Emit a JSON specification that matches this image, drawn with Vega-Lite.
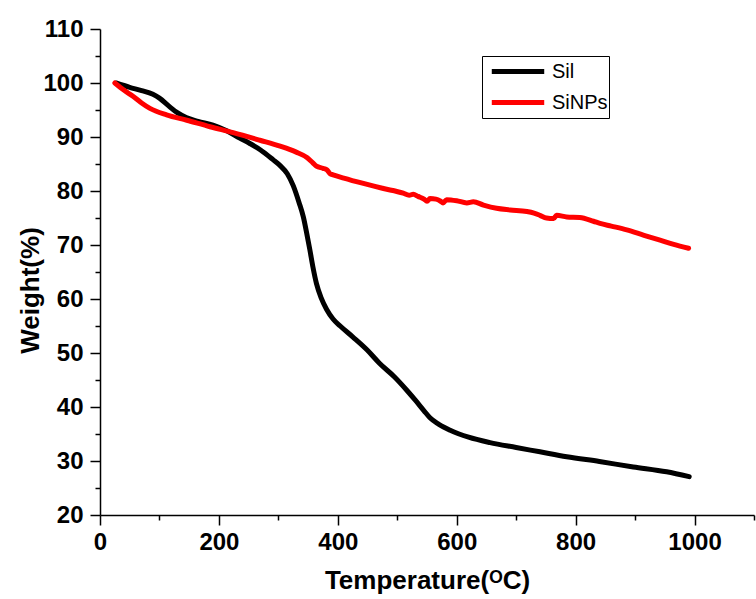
{
  "$schema": "https://vega.github.io/schema/vega-lite/v6.json",
  "width": 654,
  "height": 486,
  "autosize": {"type": "none"},
  "padding": {"left": 100, "top": 29, "right": 2, "bottom": 84},
  "background": "white",
  "config": {"view": {"stroke": null}},
  "datasets": {
    "tga": [
      {"series": "Sil", "T": 27, "W": 100},
      {"series": "Sil", "T": 50, "W": 99.2},
      {"series": "Sil", "T": 70, "W": 98.6},
      {"series": "Sil", "T": 89, "W": 97.9},
      {"series": "Sil", "T": 100, "W": 97.2},
      {"series": "Sil", "T": 115, "W": 95.8},
      {"series": "Sil", "T": 130, "W": 94.5},
      {"series": "Sil", "T": 145, "W": 93.6},
      {"series": "Sil", "T": 165, "W": 92.9},
      {"series": "Sil", "T": 190, "W": 92.2},
      {"series": "Sil", "T": 214, "W": 91.1},
      {"series": "Sil", "T": 235, "W": 89.8},
      {"series": "Sil", "T": 252, "W": 88.8},
      {"series": "Sil", "T": 270, "W": 87.6},
      {"series": "Sil", "T": 291, "W": 85.8},
      {"series": "Sil", "T": 303, "W": 84.7},
      {"series": "Sil", "T": 315, "W": 83.2},
      {"series": "Sil", "T": 325, "W": 81.0},
      {"series": "Sil", "T": 335, "W": 77.8},
      {"series": "Sil", "T": 342, "W": 75.2},
      {"series": "Sil", "T": 348, "W": 72.0},
      {"series": "Sil", "T": 353, "W": 69.1},
      {"series": "Sil", "T": 358, "W": 66.0},
      {"series": "Sil", "T": 364, "W": 62.9},
      {"series": "Sil", "T": 372, "W": 60.2},
      {"series": "Sil", "T": 381, "W": 58.1},
      {"series": "Sil", "T": 392, "W": 56.3},
      {"series": "Sil", "T": 404, "W": 55.0},
      {"series": "Sil", "T": 425, "W": 53.0},
      {"series": "Sil", "T": 449, "W": 50.6},
      {"series": "Sil", "T": 470, "W": 48.1},
      {"series": "Sil", "T": 495, "W": 45.6},
      {"series": "Sil", "T": 516, "W": 43.1},
      {"series": "Sil", "T": 530, "W": 41.3},
      {"series": "Sil", "T": 545, "W": 39.3},
      {"series": "Sil", "T": 555, "W": 38.0},
      {"series": "Sil", "T": 570, "W": 36.8},
      {"series": "Sil", "T": 589, "W": 35.7},
      {"series": "Sil", "T": 620, "W": 34.4},
      {"series": "Sil", "T": 656, "W": 33.4},
      {"series": "Sil", "T": 700, "W": 32.5},
      {"series": "Sil", "T": 740, "W": 31.7},
      {"series": "Sil", "T": 785, "W": 30.8},
      {"series": "Sil", "T": 840, "W": 29.9},
      {"series": "Sil", "T": 897, "W": 28.9},
      {"series": "Sil", "T": 953, "W": 28.0},
      {"series": "Sil", "T": 991, "W": 27.1},
      {"series": "SiNPs", "T": 25, "W": 100},
      {"series": "SiNPs", "T": 40, "W": 98.7},
      {"series": "SiNPs", "T": 56, "W": 97.5},
      {"series": "SiNPs", "T": 70, "W": 96.3},
      {"series": "SiNPs", "T": 84, "W": 95.3},
      {"series": "SiNPs", "T": 112, "W": 94.1},
      {"series": "SiNPs", "T": 146, "W": 93.1},
      {"series": "SiNPs", "T": 185, "W": 91.9},
      {"series": "SiNPs", "T": 224, "W": 90.8},
      {"series": "SiNPs", "T": 269, "W": 89.4},
      {"series": "SiNPs", "T": 303, "W": 88.3},
      {"series": "SiNPs", "T": 330, "W": 87.2},
      {"series": "SiNPs", "T": 348, "W": 86.2},
      {"series": "SiNPs", "T": 358, "W": 85.2},
      {"series": "SiNPs", "T": 364, "W": 84.6},
      {"series": "SiNPs", "T": 375, "W": 84.2},
      {"series": "SiNPs", "T": 382, "W": 83.9},
      {"series": "SiNPs", "T": 387, "W": 83.2},
      {"series": "SiNPs", "T": 392, "W": 83.0},
      {"series": "SiNPs", "T": 410, "W": 82.4},
      {"series": "SiNPs", "T": 443, "W": 81.4},
      {"series": "SiNPs", "T": 475, "W": 80.5},
      {"series": "SiNPs", "T": 510, "W": 79.6},
      {"series": "SiNPs", "T": 520, "W": 79.2},
      {"series": "SiNPs", "T": 527, "W": 79.4},
      {"series": "SiNPs", "T": 535, "W": 79.0},
      {"series": "SiNPs", "T": 545, "W": 78.5},
      {"series": "SiNPs", "T": 550, "W": 78.1},
      {"series": "SiNPs", "T": 555, "W": 78.6},
      {"series": "SiNPs", "T": 565, "W": 78.5},
      {"series": "SiNPs", "T": 573, "W": 78.1},
      {"series": "SiNPs", "T": 577, "W": 77.8},
      {"series": "SiNPs", "T": 583, "W": 78.4},
      {"series": "SiNPs", "T": 600, "W": 78.2},
      {"series": "SiNPs", "T": 617, "W": 77.8},
      {"series": "SiNPs", "T": 628, "W": 78.0},
      {"series": "SiNPs", "T": 645, "W": 77.4},
      {"series": "SiNPs", "T": 667, "W": 76.8},
      {"series": "SiNPs", "T": 690, "W": 76.5},
      {"series": "SiNPs", "T": 718, "W": 76.2},
      {"series": "SiNPs", "T": 730, "W": 75.9},
      {"series": "SiNPs", "T": 740, "W": 75.5},
      {"series": "SiNPs", "T": 751, "W": 75.0},
      {"series": "SiNPs", "T": 763, "W": 74.9},
      {"series": "SiNPs", "T": 768, "W": 75.5},
      {"series": "SiNPs", "T": 785, "W": 75.2},
      {"series": "SiNPs", "T": 807, "W": 75.1},
      {"series": "SiNPs", "T": 830, "W": 74.4},
      {"series": "SiNPs", "T": 841, "W": 74.0},
      {"series": "SiNPs", "T": 860, "W": 73.5},
      {"series": "SiNPs", "T": 886, "W": 72.8},
      {"series": "SiNPs", "T": 915, "W": 71.8},
      {"series": "SiNPs", "T": 942, "W": 70.9},
      {"series": "SiNPs", "T": 965, "W": 70.1},
      {"series": "SiNPs", "T": 990, "W": 69.4}
    ]
  },
  "data": {"name": "tga"},
  "mark": {"type": "line", "strokeWidth": 5, "interpolate": "monotone", "strokeCap": "round", "strokeJoin": "round"},
  "encoding": {
    "x": {
      "field": "T",
      "type": "quantitative",
      "scale": {"domain": [0, 1100], "nice": false, "zero": false},
      "axis": {
        "title": "Temperature(ᴼC)",
        "values": [0, 100, 200, 300, 400, 500, 600, 700, 800, 900, 1000, 1100],
        "labelExpr": "datum.value % 200 === 0 && datum.value < 1100 ? datum.label : ''",
        "format": "d",
        "grid": false,
        "domainColor": "black",
        "domainWidth": 1.5,
        "tickColor": "black",
        "tickWidth": 1.5,
        "tickSize": {"condition": {"test": "datum.value % 200 === 0", "value": 10}, "value": 5},
        "labelFont": "Liberation Sans",
        "labelFontWeight": "bold",
        "labelFontSize": 24,
        "labelColor": "black",
        "labelPadding": 5,
        "labelFlush": false,
        "labelOverlap": false,
        "titleFont": "Liberation Sans",
        "titleFontWeight": "bold",
        "titleFontSize": 26,
        "titleColor": "black",
        "titleBaseline": "alphabetic",
        "titleY": 73
      }
    },
    "y": {
      "field": "W",
      "type": "quantitative",
      "scale": {"domain": [20, 110], "nice": false, "zero": false},
      "axis": {
        "title": "Weight(%)",
        "values": [20, 25, 30, 35, 40, 45, 50, 55, 60, 65, 70, 75, 80, 85, 90, 95, 100, 105, 110],
        "labelExpr": "datum.value % 10 === 0 ? datum.label : ''",
        "grid": false,
        "domainColor": "black",
        "domainWidth": 1.5,
        "tickColor": "black",
        "tickWidth": 1.5,
        "tickSize": {"condition": {"test": "datum.value % 10 === 0", "value": 10}, "value": 5},
        "labelFont": "Liberation Sans",
        "labelFontWeight": "bold",
        "labelFontSize": 24,
        "labelColor": "black",
        "labelPadding": 7,
        "labelFlush": false,
        "labelOverlap": false,
        "titleFont": "Liberation Sans",
        "titleFontWeight": "bold",
        "titleFontSize": 26,
        "titleColor": "black",
        "titleX": -57,
        "titleY": 261
      }
    },
    "color": {
      "field": "series",
      "type": "nominal",
      "scale": {"domain": ["Sil", "SiNPs"], "range": ["#000000", "#ff0000"]},
      "legend": {
        "title": null,
        "orient": "none",
        "legendX": 382,
        "legendY": 27,
        "padding": 1,
        "strokeColor": "black",
        "fillColor": "white",
        "symbolType": "stroke",
        "symbolSize": 2750,
        "symbolStrokeWidth": 5,
        "symbolOffset": 6,
        "clipHeight": 29,
        "labelFont": "Liberation Sans",
        "labelFontSize": 20,
        "labelColor": "black",
        "labelOffset": 5,
        "labelExpr": "datum.label + '\u00a0\u00a0\u00a0'"
      }
    }
  }
}
